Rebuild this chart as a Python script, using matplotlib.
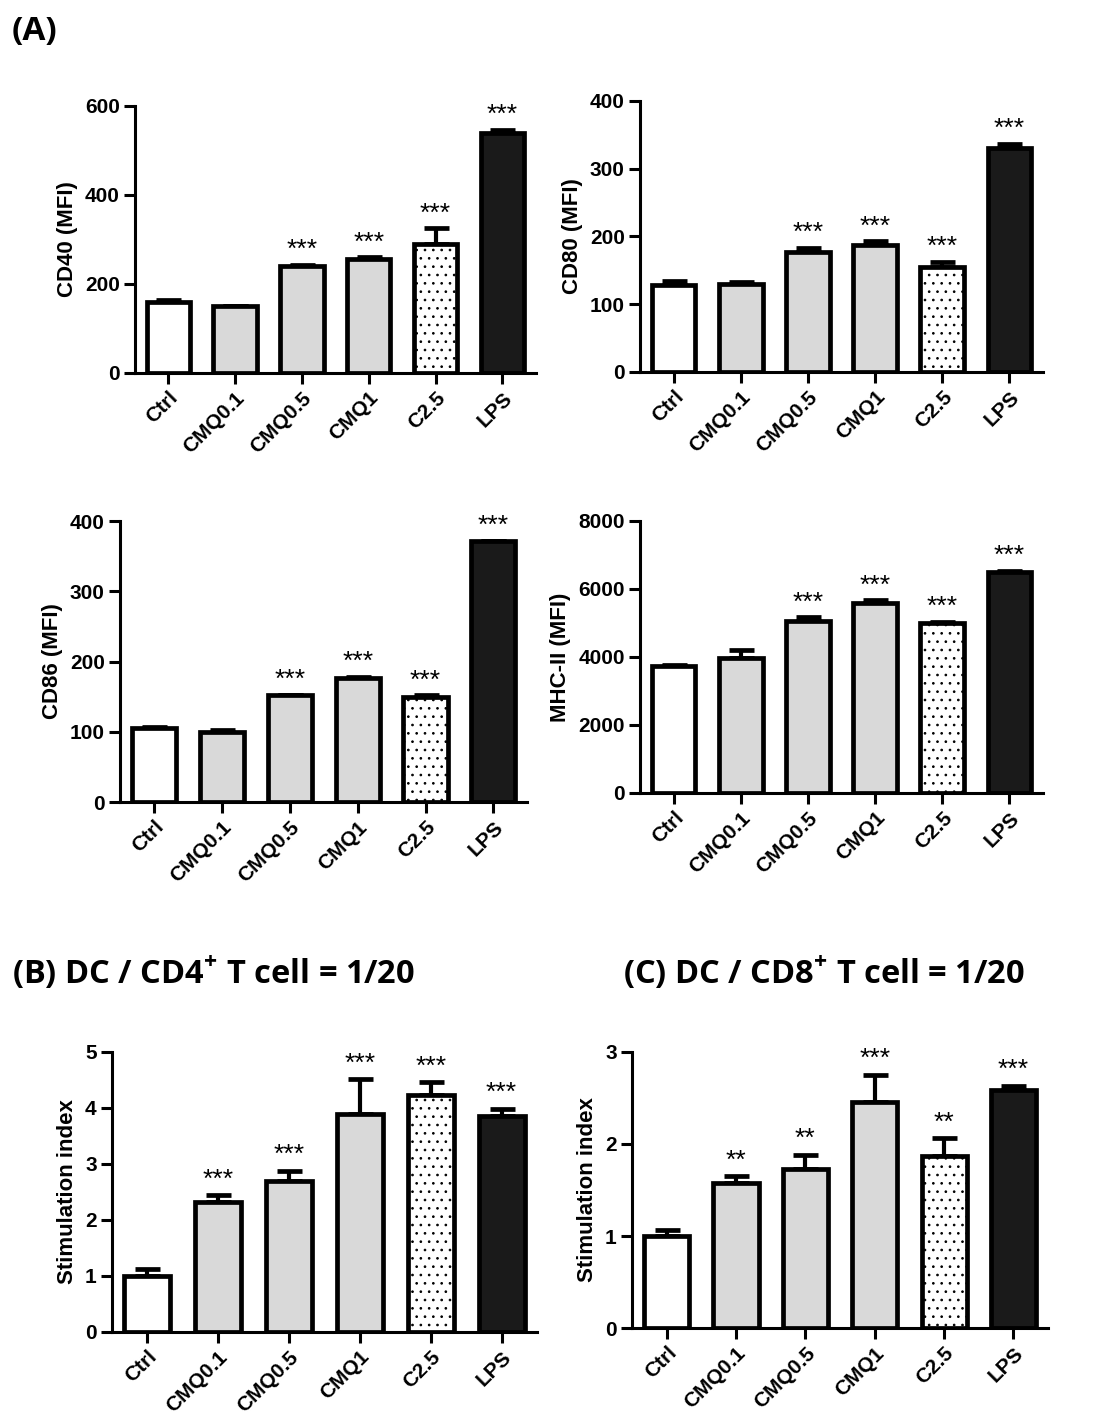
import matplotlib
matplotlib.use("Agg")
import matplotlib.pyplot as plt

plt.rcParams['font.family'] = ['Liberation Sans', 'DejaVu Sans']
plt.rcParams['hatch.linewidth'] = 0.7
plt.rcParams['mathtext.fontset'] = 'custom'
plt.rcParams['mathtext.rm'] = 'Open Sans:bold'

# Data
groups = ["Ctrl", "CMQ0.1", "CMQ0.5", "CMQ1", "C2.5", "LPS"]

cd40 = [160, 150, 240, 255, 290, 540]
cd40_err = [3, 1, 3, 5, 35, 7]
cd40_sig = ["", "", "***", "***", "***", "***"]

cd80 = [128, 130, 177, 187, 155, 331]
cd80_err = [6, 3, 6, 6, 8, 6]
cd80_sig = ["", "", "***", "***", "***", "***"]

cd86 = [106, 100, 152, 177, 150, 371]
cd86_err = [1, 2, 1, 1, 2, 1]
cd86_sig = ["", "", "***", "***", "***", "***"]

mhc = [3730, 3980, 5060, 5600, 5010, 6500]
mhc_err = [30, 230, 100, 60, 30, 30]
mhc_sig = ["", "", "***", "***", "***", "***"]

cd4_si = [1.0, 2.33, 2.70, 3.90, 4.24, 3.86]
cd4_err = [0.13, 0.12, 0.18, 0.62, 0.22, 0.13]
cd4_sig = ["", "***", "***", "***", "***", "***"]

cd8_si = [1.0, 1.58, 1.73, 2.46, 1.87, 2.59]
cd8_err = [0.06, 0.07, 0.15, 0.29, 0.19, 0.04]
cd8_sig = ["", "**", "**", "***", "**", "***"]

fills = ["white", "#d9d9d9", "#d9d9d9", "#d9d9d9", "white", "#1a1a1a"]
hatches = [None, None, None, None, "..", None]


def bar_panel(rect, vals, errs, sig, ylabel, ymax, yticks, star_off):
    ax = fig.add_axes(rect)
    x = list(range(len(groups)))
    bars = ax.bar(x, vals, width=0.65, color=fills, edgecolor="black",
                  linewidth=3.4, zorder=2)
    for b, h in zip(bars, hatches):
        if h:
            b.set_hatch(h)
    ax.errorbar(x, vals, yerr=[[0] * len(vals), errs], fmt="none",
                ecolor="black", elinewidth=3, capsize=9, capthick=3.4, zorder=1)
    for xi, v, e, s in zip(x, vals, errs, sig):
        if s:
            ax.text(xi, v + e + star_off, s, ha="center", va="bottom",
                    fontsize=19)
    ax.set_xlim(-0.5, 5.5)
    ax.set_ylim(0, ymax)
    ax.set_yticks(yticks)
    ax.set_xticks(x)
    ax.set_xticklabels(groups, rotation=45, ha="right",
                       rotation_mode="anchor", fontsize=15, fontweight="bold")
    for lab in ax.get_yticklabels():
        lab.set_fontsize(15)
        lab.set_fontweight("bold")
    ax.set_ylabel(ylabel, fontsize=16, fontweight="bold", labelpad=5)
    ax.spines["top"].set_visible(False)
    ax.spines["right"].set_visible(False)
    ax.spines["left"].set_linewidth(2.2)
    ax.spines["bottom"].set_linewidth(2.2)
    ax.tick_params(width=2.2, length=8, pad=3)
    return ax


fig = plt.figure(figsize=(11.01, 14.17), dpi=100)

bar_panel([0.1226, 0.7368, 0.364, 0.1884], cd40, cd40_err, cd40_sig,
          "CD40 (MFI)", 600, [0, 200, 400, 600], 6)
bar_panel([0.5813, 0.7375, 0.366, 0.1913], cd80, cd80_err, cd80_sig,
          "CD80 (MFI)", 400, [0, 100, 200, 300, 400], 4)
bar_panel([0.1090, 0.4340, 0.370, 0.1983], cd86, cd86_err, cd86_sig,
          "CD86 (MFI)", 400, [0, 100, 200, 300, 400], 4)
bar_panel([0.5813, 0.4404, 0.366, 0.1920], mhc, mhc_err, mhc_sig,
          "MHC-II (MFI)", 8000, [0, 2000, 4000, 6000, 8000], 80)
bar_panel([0.1017, 0.0600, 0.386, 0.1976], cd4_si, cd4_err, cd4_sig,
          "Stimulation index", 5, [0, 1, 2, 3, 4, 5], 0.06)
bar_panel([0.5740, 0.0628, 0.378, 0.1948], cd8_si, cd8_err, cd8_sig,
          "Stimulation index", 3, [0, 1, 2, 3], 0.04)

fig.text(0.011, 0.978, "(A)", fontsize=24, fontweight="bold",
         family="Open Sans", va="center")
fig.text(0.011, 0.313, "(B) DC / CD4$^{+}$ T cell = 1/20", fontsize=23.5,
         fontweight="bold", family="Open Sans", va="center")
fig.text(0.566, 0.313, "(C) DC / CD8$^{+}$ T cell = 1/20", fontsize=23.5,
         fontweight="bold", family="Open Sans", va="center")

fig.savefig("out.png", dpi=100)
